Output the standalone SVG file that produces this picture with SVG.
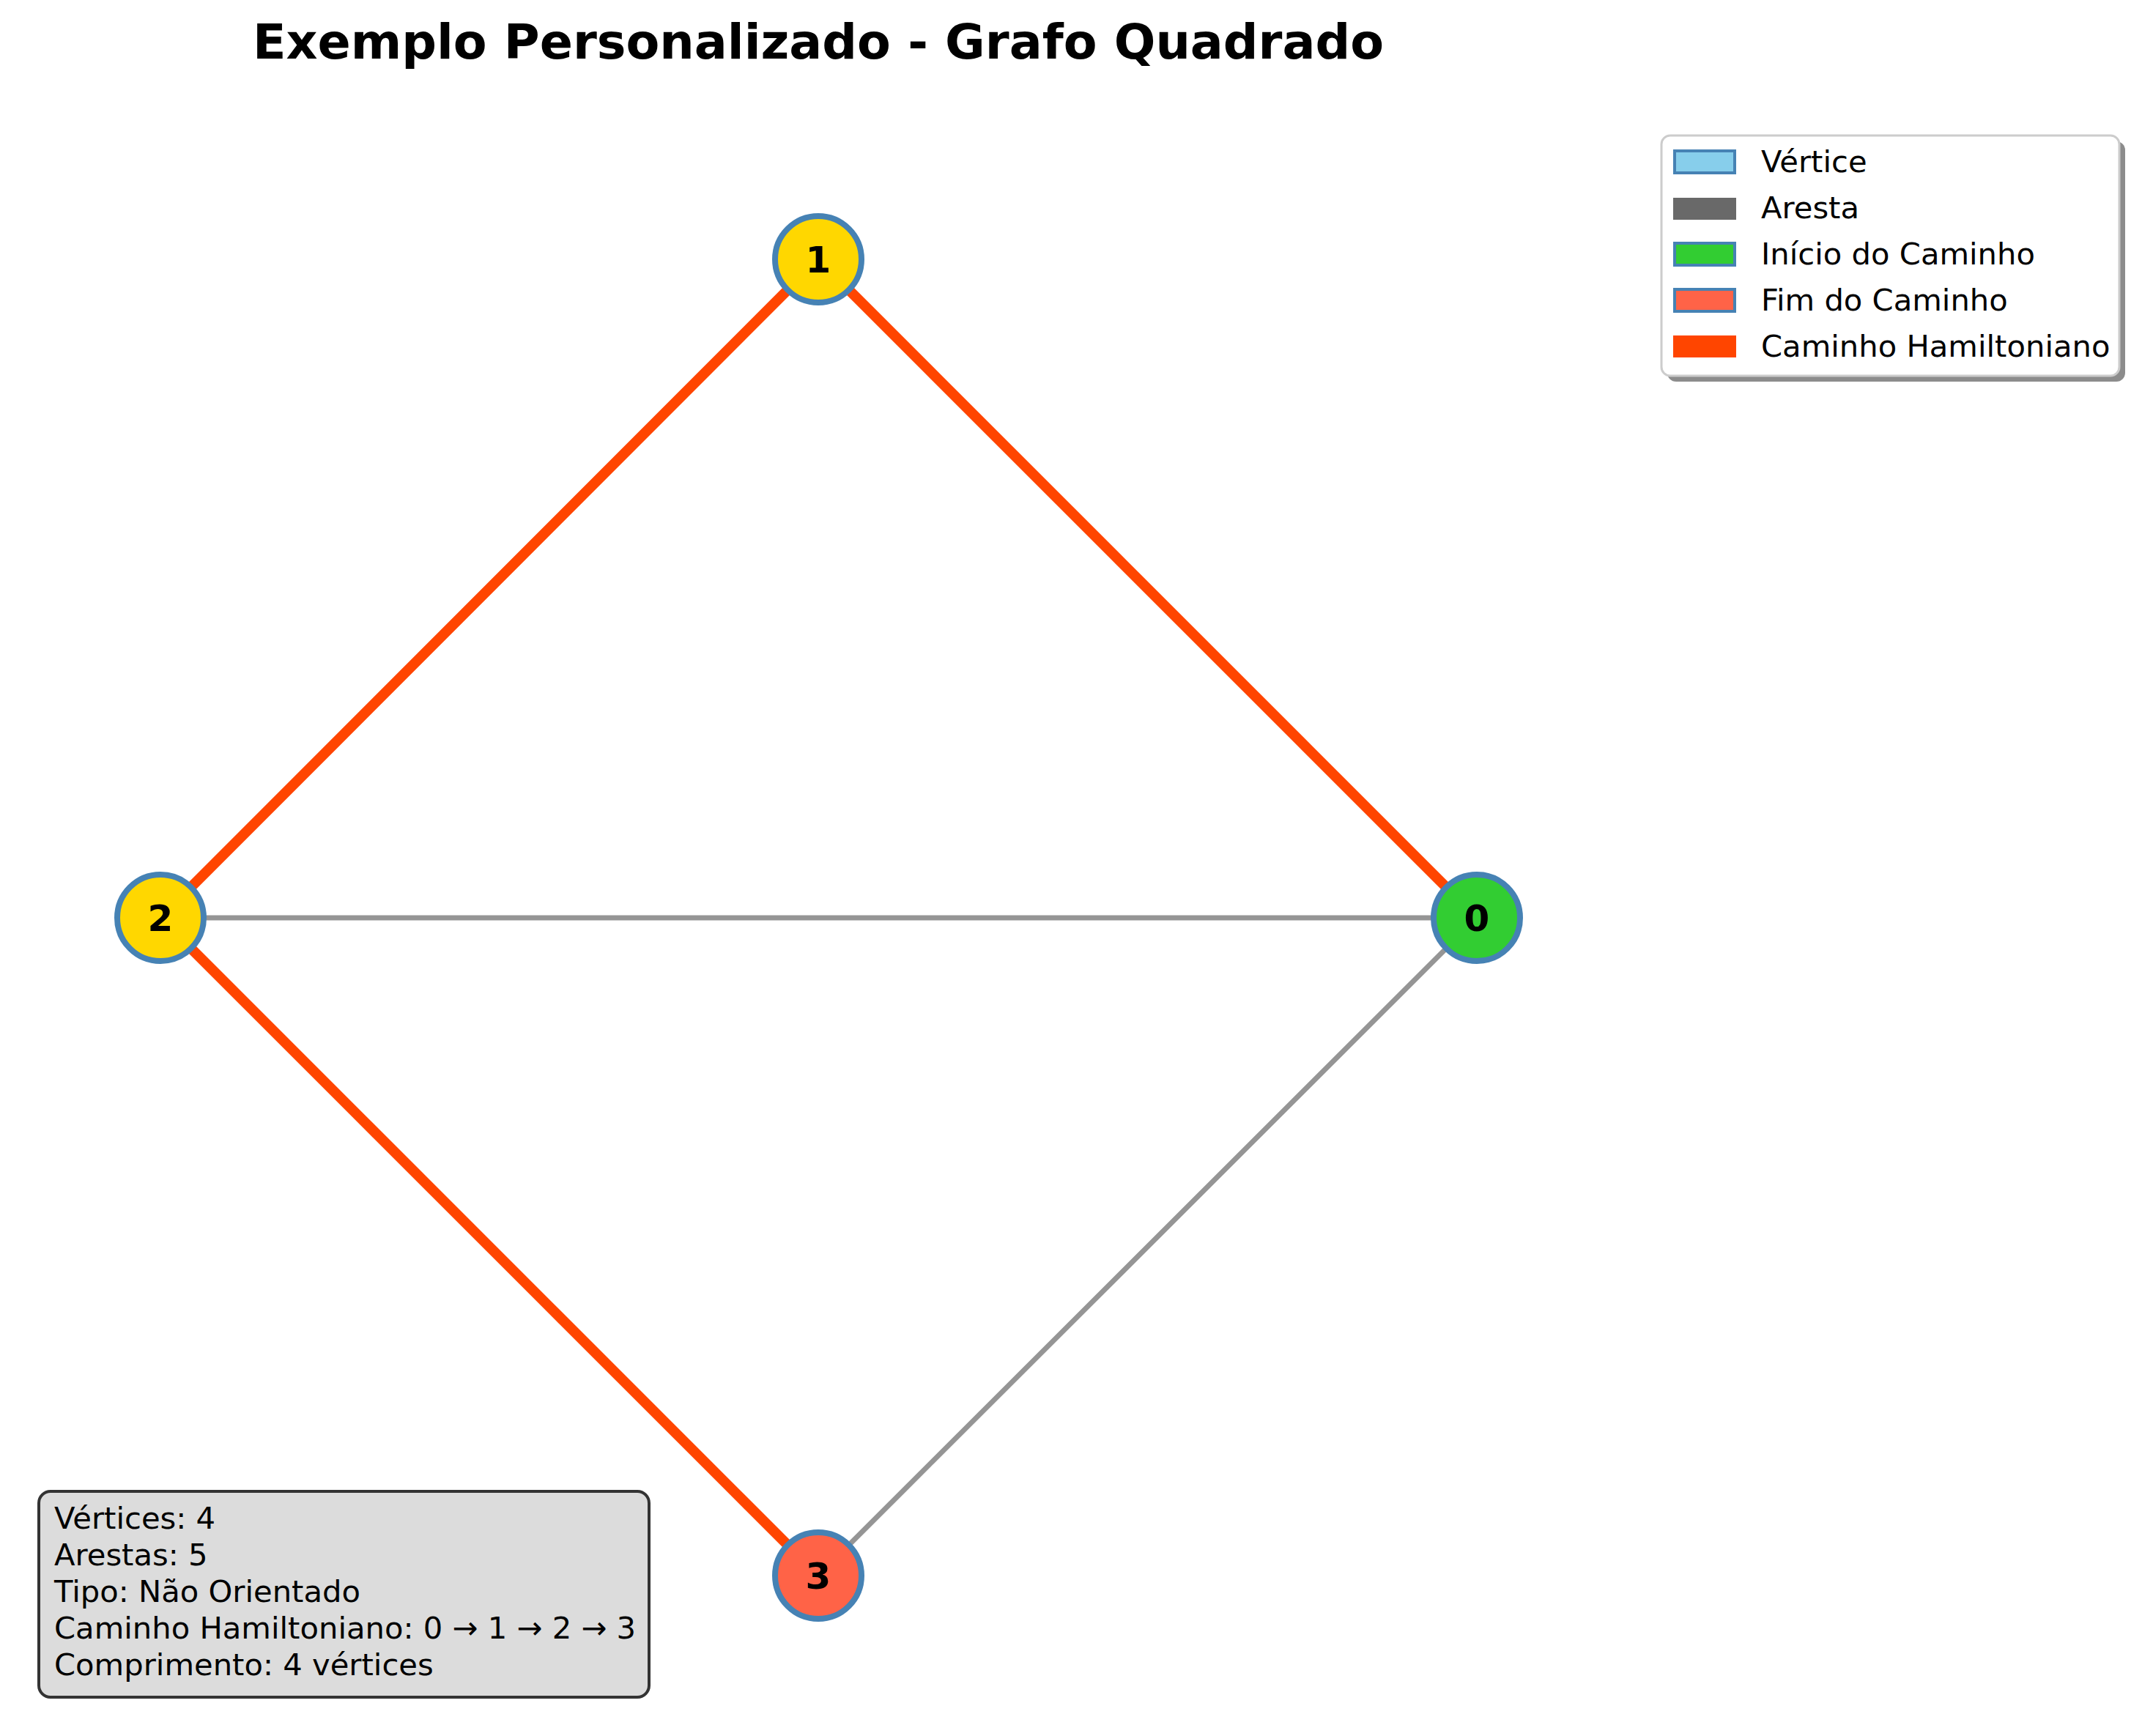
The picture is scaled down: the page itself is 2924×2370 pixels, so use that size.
<svg xmlns="http://www.w3.org/2000/svg" width="2924" height="2370" viewBox="0 0 2924 2370">
<style>
  text { font-family: "DejaVu Sans", "Liberation Sans", sans-serif; fill: #000; }
  .title { font-size: 66.7px; font-weight: bold; text-anchor: middle; }
  .nlabel { font-size: 50px; font-weight: bold; text-anchor: middle; }
  .leg { font-size: 41.7px; }
  .info { font-size: 41.7px; }
  .edge { stroke: #959595; stroke-width: 7; stroke-linecap: round; fill: none; }
  .path { stroke: #FF4500; stroke-width: 14; stroke-linecap: round; fill: none; }
  .node { stroke: #4682B4; stroke-width: 8; }
</style>
<rect width="2924" height="2370" fill="#ffffff"/>
<text class="title" x="1117" y="80">Exemplo Personalizado - Grafo Quadrado</text>
<g id="connectors">
  <line class="edge" x1="2016" y1="1253" x2="1117" y2="354"/>
  <line class="edge" x1="1117" y1="354" x2="219" y2="1253"/>
  <line class="edge" x1="219" y1="1253" x2="1117" y2="2151"/>
  <line class="edge" x1="219" y1="1253" x2="2016" y2="1253"/>
  <line class="edge" x1="2016" y1="1253" x2="1117" y2="2151"/>
  <line class="path" x1="2016" y1="1253" x2="1117" y2="354"/>
  <line class="path" x1="1117" y1="354" x2="219" y2="1253"/>
  <line class="path" x1="219" y1="1253" x2="1117" y2="2151"/>
</g>
<g id="node-0">
  <circle class="node" cx="2016" cy="1253" r="59" fill="#32CD32"/>
  <text class="nlabel" x="2016" y="1271">0</text>
</g>
<g id="node-1">
  <circle class="node" cx="1117" cy="354" r="59" fill="#FFD700"/>
  <text class="nlabel" x="1117" y="372">1</text>
</g>
<g id="node-2">
  <circle class="node" cx="219" cy="1253" r="59" fill="#FFD700"/>
  <text class="nlabel" x="219" y="1271">2</text>
</g>
<g id="node-3">
  <circle class="node" cx="1117" cy="2151" r="59" fill="#FF6347"/>
  <text class="nlabel" x="1117" y="2169">3</text>
</g>
<g id="legend">
  <rect x="2276" y="193" width="625" height="328" rx="12" fill="#8c8c8c"/>
  <rect x="2268" y="185" width="625" height="328" rx="12" fill="#ffffff" stroke="#cccccc" stroke-width="3"/>
  <rect x="2286" y="206" width="82" height="30" fill="#87CEEB" stroke="#4682B4" stroke-width="4"/>
  <text class="leg" x="2404" y="235">Vértice</text>
  <rect x="2284" y="270" width="86" height="30" fill="#696969"/>
  <text class="leg" x="2404" y="298">Aresta</text>
  <rect x="2286" y="332" width="82" height="30" fill="#32CD32" stroke="#4682B4" stroke-width="4"/>
  <text class="leg" x="2404" y="361">Início do Caminho</text>
  <rect x="2286" y="395" width="82" height="30" fill="#FF6347" stroke="#4682B4" stroke-width="4"/>
  <text class="leg" x="2404" y="424">Fim do Caminho</text>
  <rect x="2284" y="458" width="86" height="30" fill="#FF4500"/>
  <text class="leg" x="2404" y="487">Caminho Hamiltoniano</text>
</g>
<g id="info">
  <rect x="53" y="2036" width="833" height="281" rx="16" fill="#dcdcdc" stroke="#333333" stroke-width="4"/>
  <text class="info" x="74" y="2087">Vértices: 4</text>
  <text class="info" x="74" y="2137">Arestas: 5</text>
  <text class="info" x="74" y="2187">Tipo: Não Orientado</text>
  <text class="info" x="74" y="2237">Caminho Hamiltoniano: 0 → 1 → 2 → 3</text>
  <text class="info" x="74" y="2287">Comprimento: 4 vértices</text>
</g>
</svg>
